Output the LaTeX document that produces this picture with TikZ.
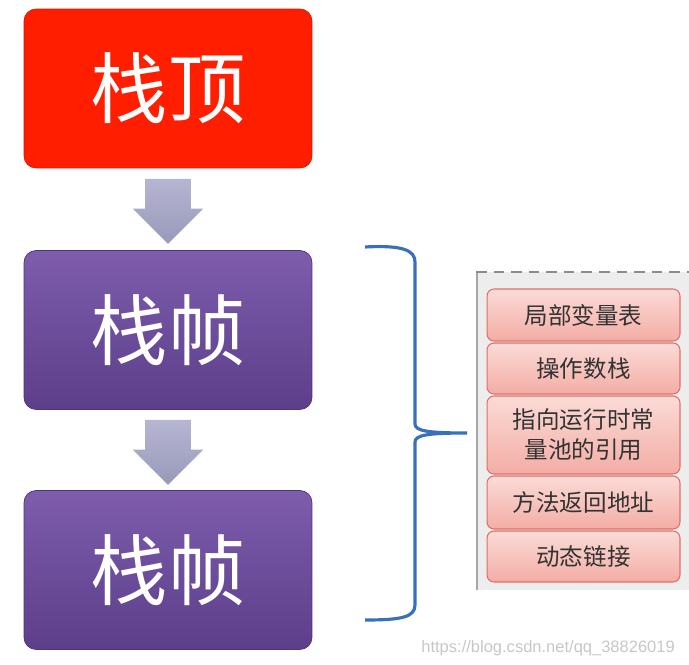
\documentclass[tikz,border=0pt]{standalone}
\usepackage{fontspec}
\setmainfont{Liberation Sans}
\newfontfamily\cjk{Noto Sans CJK SC}
\usetikzlibrary{shapes.arrows}

\definecolor{topred}{HTML}{FF1E00}
\definecolor{topredline}{HTML}{D81800}
\definecolor{frametop}{HTML}{7D5DAC}
\definecolor{framebot}{HTML}{5C3E8A}
\definecolor{frameline}{HTML}{4E3478}
\definecolor{arrowtop}{HTML}{B6B6D2}
\definecolor{arrowbot}{HTML}{9898BA}
\definecolor{cellfill}{HTML}{F9CBC5}
\definecolor{cellbot}{HTML}{F3ADA5}
\definecolor{cellline}{HTML}{DE7068}
\definecolor{bracecol}{HTML}{3A70BA}

\tikzset{
  bigbox/.style={rounded corners=0.24cm, minimum width=5.76cm, minimum height=3.18cm,
    text=white, font=\cjk\fontsize{44}{50}\selectfont, inner sep=0pt},
  downarrow/.style={single arrow, shape border rotate=270, minimum height=1.3cm,
    minimum width=1.4cm, inner xsep=0.45cm, inner ysep=0pt, single arrow head extend=0.25cm,
    top color=arrowtop, bottom color=arrowbot, draw=none},
  cellbox/.style={rounded corners=0.14cm, minimum width=3.86cm, draw=cellline,
    top color=white!30!cellfill, bottom color=cellbot, line width=0.6pt,
    font=\cjk\fontsize{13.4}{17}\selectfont, text=black!80, align=center, inner sep=0pt}
}

\begin{document}
\begin{tikzpicture}[x=0.02cm, y=-0.02cm]
  \useasboundingbox (0,0) rectangle (689,665);

  % stack top and frames
  \node[bigbox, fill=topred, draw=topredline] (top) at (168,88.5) {栈顶};
  \node[bigbox, top color=frametop, bottom color=framebot, draw=frameline] (frameA) at (168,330) {栈帧};
  \node[bigbox, top color=frametop, bottom color=framebot, draw=frameline] (frameB) at (168,570) {栈帧};

  \node[downarrow] (arrowA) at (168,200) {};
  \node[downarrow] (arrowB) at (168,441) {};

  % brace
  \draw[bracecol, line width=1.8pt] (365,247) .. controls (402,245) and (415,250) .. (415,262)
    -- (415,424) .. controls (415,431) and (428,433) .. (467,433)
    .. controls (428,433) and (415,435) .. (415,442)
    -- (415,605) .. controls (415,617) and (402,620) .. (365,620);

  % frame contents
  \fill[black!7] (476,272) rectangle (689,590);
  \draw[black!45, dashed, dash pattern=on 6pt off 4pt, line width=0.8pt] (476,272) -- (689,272);
  \draw[black!35, line width=0.6pt] (477,273) -- (477,590);

  \node[cellbox, minimum height=1.04cm] (cellA) at (583.5,315) {局部变量表};
  \node[cellbox, minimum height=1.02cm] (cellB) at (583.5,368.5) {操作数栈};
  \node[cellbox, minimum height=1.56cm] (cellC) at (583.5,435) {指向运行时常\\量池的引用};
  \node[cellbox, minimum height=1.06cm] (cellD) at (583.5,502.5) {方法返回地址};
  \node[cellbox, minimum height=1.02cm] (cellE) at (583.5,556.5) {动态链接};

  \node[text=black!22, font=\fontsize{9.4}{11}\selectfont, anchor=east] (mark) at (681,648) {https://blog.csdn.net/qq\_38826019};
\end{tikzpicture}
\end{document}
